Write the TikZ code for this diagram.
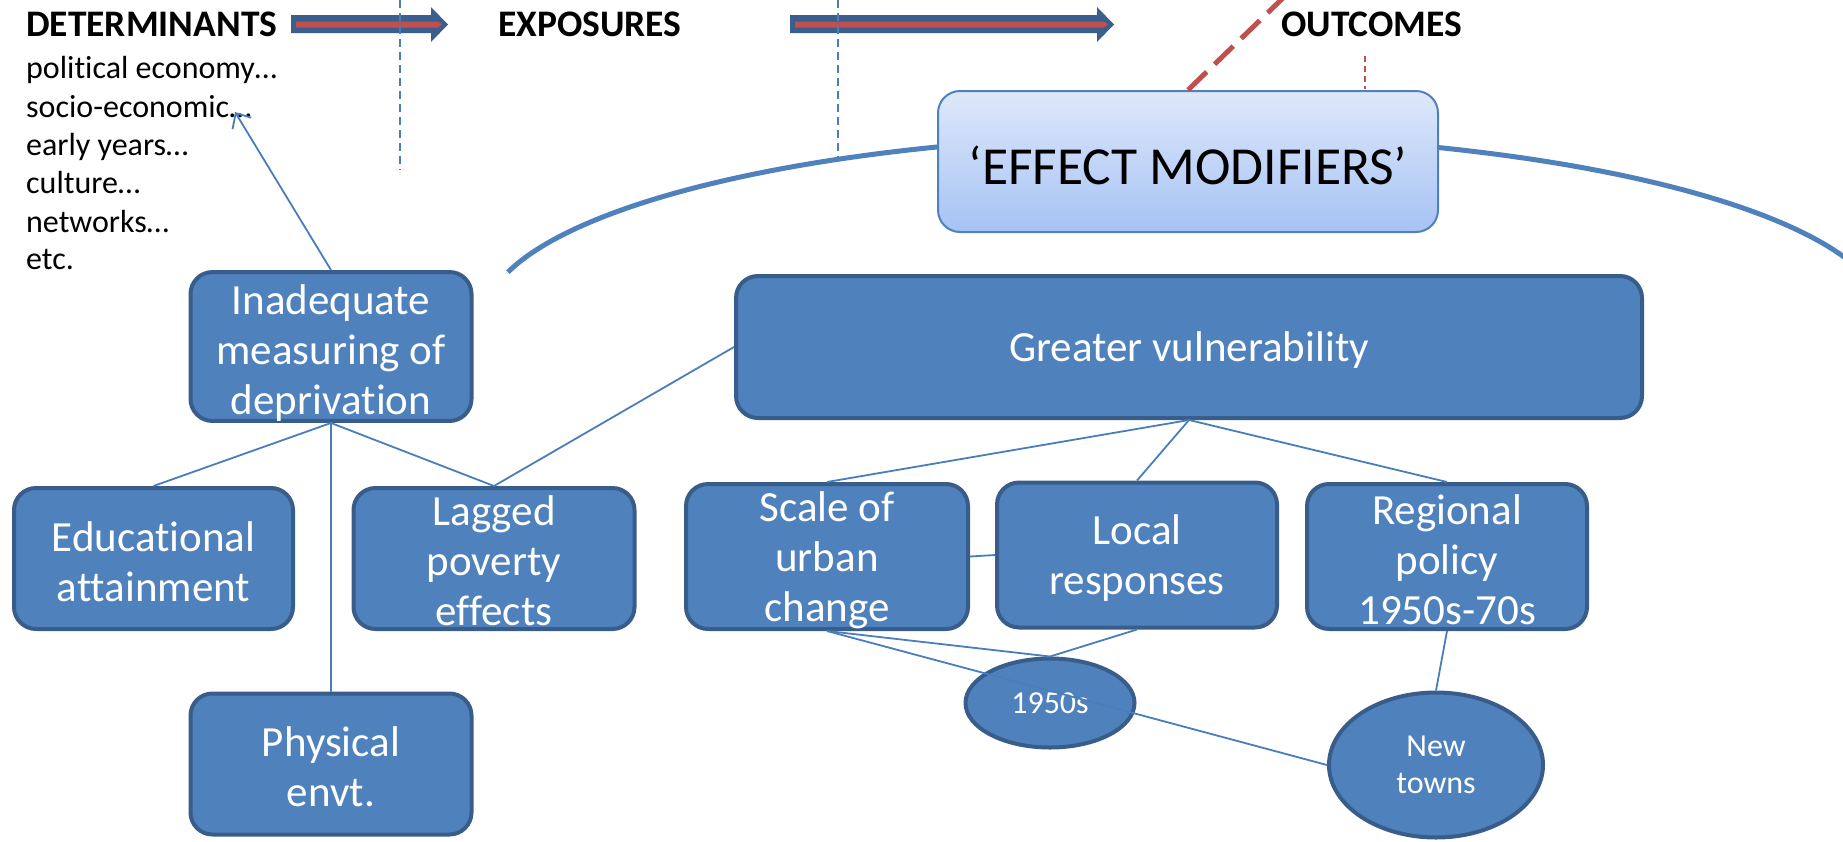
\documentclass[tikz,border=0pt]{standalone}
\usepackage{fontspec}
\setmainfont{Carlito}[Ligatures=NoCommon, RawFeature={-liga;-clig;-dlig;-calt}]
\usetikzlibrary{arrows.meta,shapes.geometric}
\definecolor{boxfill}{HTML}{4F81BD}
\definecolor{boxedge}{HTML}{385D8A}
\definecolor{linkc}{HTML}{4A7EBB}
\definecolor{arrowc}{HTML}{3A5F8E}
\definecolor{redc}{HTML}{C0504D}
\definecolor{emtop}{HTML}{DEE8FA}
\definecolor{embot}{HTML}{A6C3F4}
\newcommand\dnshift[1]{\mbox{}\\[-#1pt]}
\newcommand\nl{\kern0pt }
\tikzset{
  box/.style={draw=boxedge, line width=4pt, fill=boxfill, rounded corners=22pt, text=white,
    font=\fontsize{43}{50}\selectfont, align=center, inner sep=0pt},
  oval/.style={ellipse, draw=boxedge, line width=4pt, fill=boxfill, text=white,
    font=\fontsize{32}{37}\selectfont, align=center, inner sep=0pt},
  link/.style={draw=linkc, line width=1.8pt},
  head/.style={font=\bfseries\fontsize{37.5}{42}\selectfont, anchor=base west, inner sep=0pt},
  item/.style={font=\fontsize{32}{38}\selectfont, anchor=base west, inner sep=0pt},
  vdash/.style={draw=linkc, line width=1.5pt, dash pattern=on 8pt off 5pt},
}
\begin{document}
\begin{tikzpicture}[x=1pt,y=-1pt]
\useasboundingbox (0,0) rectangle (1843,841);
\clip (0,0) rectangle (1843,841);

% headings
\node[head] (det) at (26,36) {DETERMINANTS};
\node[head] (exp) at (498,36) {EXPOSURES};
\node[head] (out) at (1281,36) {OUTCOMES};

% block arrows
\fill[arrowc] (291,15) -- (431,15) -- (431,7) -- (448,24.5) -- (431,42) -- (431,33) -- (291,33) -- cycle;
\fill[redc] (296,21.5) -- (438,21.5) -- (442,24.5) -- (438,27.5) -- (296,27.5) -- cycle;
\fill[arrowc] (790,15) -- (1097,15) -- (1097,7) -- (1114,24.5) -- (1097,42) -- (1097,33) -- (790,33) -- cycle;
\fill[redc] (795,21.5) -- (1104,21.5) -- (1108,24.5) -- (1104,27.5) -- (795,27.5) -- cycle;

% dashed verticals
\coordinate (d1a) at (400,0); \coordinate (d1b) at (400,170);
\coordinate (d2a) at (838,0); \coordinate (d2b) at (838,158);
\draw[vdash] (d1a) -- (d1b);
\draw[vdash] (d2a) -- (d2b);

% determinants list
\node[item] (i1) at (26,78) {polit\nl ical economy…};
\node[item] (i2) at (26,117) {socio-economic…};
\node[item] (i3) at (26,155) {early years…};
\node[item] (i4) at (26,193) {culture…};
\node[item] (i5) at (26,232) {networks…};
\node[item] (i6) at (26,269) {etc.};

% big arc
\draw[draw=boxfill, line width=5pt] plot[domain=195:342, samples=100] ({1185+701*cos(\x)},{320+185*sin(\x)});

% effect modifiers
\node[draw=boxfill, line width=2pt, rounded corners=22pt, top color=emtop, bottom color=embot,
  minimum width=500pt, minimum height=141pt, inner sep=0pt] (em) at (1188,161.5) {};
\node[font=\fontsize{53.5}{60}\selectfont, inner sep=0pt] (emtext) at (1188,165) {‘EFFECT MODIFIERS’};
\coordinate (redtop) at (1284,-3);
\draw[draw=redc, line width=5pt, dash pattern=on 26pt off 11pt] (em.north) -- (redtop);
\coordinate (rv1) at (1365,56); \coordinate (rv2) at (1365,89);
\draw[draw=redc, line width=1.5pt, dash pattern=on 6pt off 4pt] (rv1) -- (rv2);

% boxes
\node[box, minimum width=281pt, minimum height=141pt] (inad) at (331,346.5) {\dnshift{8}Inadequate\\measuring of\\depriva\nl tion};
\node[box, minimum width=279pt, minimum height=141pt] (edu) at (153.5,558.5) {\dnshift{14}Educat\nl ional\\attai\nl nment};
\node[box, minimum width=281pt, minimum height=141pt] (lag) at (494,558.5) {\dnshift{16}Lagged\\poverty\\effects};
\node[box, minimum width=281pt, minimum height=141pt] (phys) at (331,764) {\dnshift{14}Physical\\envt.};
\node[box, minimum width=906pt, minimum height=142pt] (greater) at (1189,347) {\dnshift{14}Greater vulnerability};
\node[box, minimum width=282pt, minimum height=145pt] (scale) at (827,556.5) {\dnshift{13}Scale of\\urban\\change};
\node[box, minimum width=280pt, minimum height=145pt] (local) at (1137,555) {\dnshift{14}Local\\responses};
\node[box, minimum width=280pt, minimum height=145pt] (regional) at (1447,556.5) {\dnshift{14}Regional\\policy\\1950s-70s};
\node[oval, minimum width=169pt, minimum height=89pt] (e1950) at (1050,703) {1950s};
\node[oval, minimum width=214pt, minimum height=145pt] (newtowns) at (1436,765) {New\\towns};

% connectors
\coordinate (se) at (235,112);
\draw[link, -{Straight Barb[length=12pt,width=22pt]}] (inad.north) -- (se);
\draw[link] (inad.south) -- (edu.north);
\draw[link] (inad.south) -- (lag.north);
\draw[link] (inad.south) -- (phys.north);
\draw[link] (lag.north) -- (greater.west);
\draw[link] (greater.south) -- (scale.north);
\draw[link] (greater.south) -- (local.north);
\draw[link] (greater.south) -- (regional.north);
\draw[link] (scale.east) -- (local.west);
\draw[link] (scale.south) -- (e1950.north);
\draw[link] (local.south) -- (e1950.north);
\draw[link] (scale.south) -- (newtowns.west);
\draw[link] (regional.south) -- (newtowns.north);
\end{tikzpicture}
\end{document}
